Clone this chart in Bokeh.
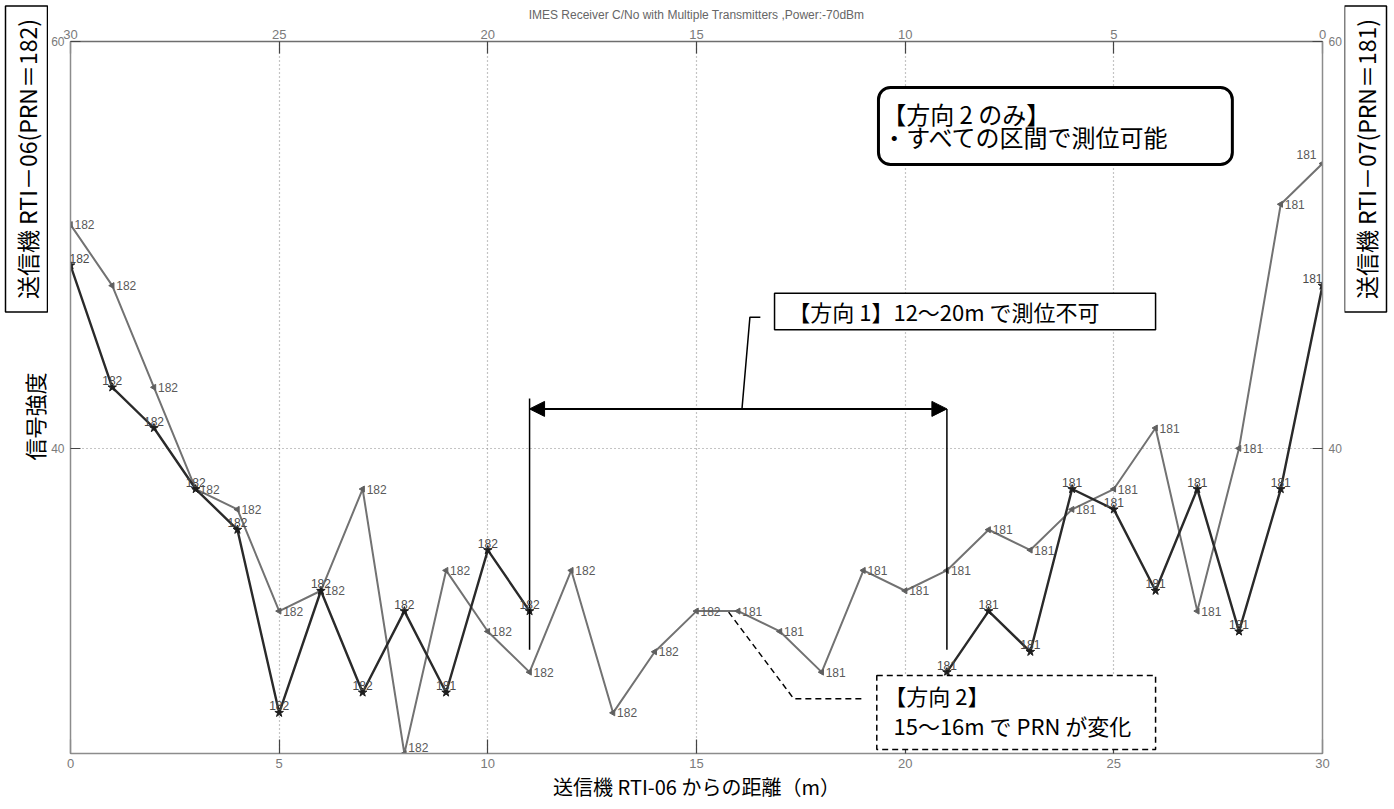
import math
from bokeh.plotting import figure
from bokeh.layouts import row
from bokeh.models import (Range1d, LinearAxis, FixedTicker, ColumnDataSource, LabelSet, Label,
                          BoxAnnotation, Arrow, NormalHead, Grid)
from bokeh.core.properties import value
from bokeh.embed import file_html
from bokeh.resources import INLINE

# ---------------- data ----------------
dist = list(range(31))
dir2_cn0 = [51, 48, 43, 38, 37, 32, 33, 38, 25, 34, 31, 29, 34, 27, 30, 32,
            32, 31, 29, 34, 33, 34, 36, 35, 37, 38, 41, 32, 40, 52, 54]
dir2_prn = ["182"] * 16 + ["181"] * 15

dir1a_dist = list(range(0, 12))
dir1a_cn0 = [49, 43, 41, 38, 36, 27, 33, 28, 32, 28, 35, 32]
dir1a_prn = ["182"] * 9 + ["181"] + ["182"] * 2

dir1b_dist = list(range(21, 31))
dir1b_cn0 = [29, 32, 30, 38, 37, 33, 38, 31, 38, 48]
dir1b_prn = ["181"] * 10

x_ticks = [0, 5, 10, 15, 20, 25, 30]
y_ticks = [40, 60]
grid_x = [5, 10, 15, 20, 25]
grid_y = [40]

title_text = "IMES Receiver C/No with Multiple Transmitters ,Power:-70dBm"
xlabel_text = "送信機 RTI-06 からの距離（m）"
ylabel_text = "信号強度"
left_tx = "送信機 RTI－06(PRN＝182)"
right_tx = "送信機 RTI－07(PRN＝181)"
note1 = "【方向 1】12～20m で測位不可"
note2a = "【方向 2 のみ】"
note2b = "・すべての区間で測位可能"
note3a = "【方向 2】"
note3b = "15～16m で PRN が変化"

JP = "Noto Sans CJK JP"
LAT = "Liberation Sans"
H = 805
X_MIN, X_MAX, Y_MIN, Y_MAX = 0, 30, 25, 60

# ---------------- main figure ----------------
p = figure(width=1296, height=H, x_range=Range1d(X_MIN, X_MAX), y_range=Range1d(Y_MIN, Y_MAX),
           output_backend="svg", toolbar_location=None,
           min_border_left=22, min_border_right=22, min_border_top=41, min_border_bottom=52,
           x_axis_location=None, y_axis_location=None, frame_align=False)
p.grid.visible = False
p.outline_line_color = None
p.background_fill_color = "white"
p.border_fill_color = "white"
p.extra_x_ranges = {"top": Range1d(X_MAX, X_MIN)}

p.title.text = title_text
p.title.align = "center"
p.title.text_font = LAT
p.title.text_font_size = "12px"
p.title.text_font_style = "normal"
p.title.text_color = "#666666"
p.title.standoff = 9

def style_axis(ax, line_color, standoff, size="13px"):
    ax.axis_line_color = line_color
    ax.axis_line_width = 1.5
    ax.major_tick_line_color = "#444444"
    ax.major_tick_line_width = 1.2
    ax.major_tick_out = 0
    ax.minor_tick_line_color = None
    ax.major_label_text_color = "#7a7a7a"
    ax.major_label_text_font = LAT
    ax.major_label_text_font_size = size
    ax.major_label_standoff = standoff

xb = LinearAxis(ticker=FixedTicker(ticks=x_ticks))
style_axis(xb, "#8c8c8c", 5)
xb.major_tick_in = 14
xb.axis_label = xlabel_text
xb.axis_label_text_font = JP
xb.axis_label_text_font_size = "20px"
xb.axis_label_text_font_style = "normal"
xb.axis_label_text_color = "black"
xb.axis_label_standoff = 1
p.add_layout(xb, "below")

xt = LinearAxis(x_range_name="top", ticker=FixedTicker(ticks=x_ticks))
style_axis(xt, "#6e6e6e", 3)
xt.major_tick_in = 12
p.add_layout(xt, "above")

yl = LinearAxis(ticker=FixedTicker(ticks=y_ticks))
style_axis(yl, "#8c8c8c", 6, "12px")
yl.major_tick_in = 10
p.add_layout(yl, "left")

yr = LinearAxis(ticker=FixedTicker(ticks=y_ticks))
style_axis(yr, "#8c8c8c", 6, "12px")
yr.major_tick_in = 10
p.add_layout(yr, "right")

gx = Grid(dimension=0, ticker=FixedTicker(ticks=grid_x), grid_line_color="#8a8a8a",
          grid_line_dash="1 3", grid_line_width=1.2)
gy = Grid(dimension=1, ticker=FixedTicker(ticks=grid_y), grid_line_color="#8a8a8a",
          grid_line_dash="1 3", grid_line_width=1.2)
p.add_layout(gx)
p.add_layout(gy)

# ---------------- series ----------------
p.line(dist, dir2_cn0, line_color="#727272", line_width=2)
p.scatter(dist, dir2_cn0, marker="triangle", angle=math.pi / 2, size=6,
          fill_color="#606060", line_color="#606060")

p.line(dir1a_dist, dir1a_cn0, line_color="#2a2a2a", line_width=2.4)
p.line(dir1b_dist, dir1b_cn0, line_color="#2a2a2a", line_width=2.4)
p.scatter(dir1a_dist, dir1a_cn0, marker="star", size=9, fill_color="#1e1e1e", line_color="#1e1e1e")
p.scatter(dir1b_dist, dir1b_cn0, marker="star", size=9, fill_color="#1e1e1e", line_color="#1e1e1e")

# label offsets: keep labels that sit on the frame edge inside the (clipped) frame
g_dx = [-26 if x == X_MAX else 4 for x in dist]
g_dy = [9 if x == X_MAX else (6 if y == Y_MIN else 0) for x, y in zip(dist, dir2_cn0)]
src2 = ColumnDataSource(dict(x=dist, y=dir2_cn0, t=dir2_prn, dx=g_dx, dy=g_dy))
p.add_layout(LabelSet(x="x", y="y", text="t", source=src2, x_offset="dx", y_offset="dy",
                      level="overlay", text_baseline="middle", text_align="left",
                      text_font_size="12px", text_color="#5a5a5a", text_font=value(LAT)))

d_x = dir1a_dist + dir1b_dist
d_y = dir1a_cn0 + dir1b_cn0
d_dx = [9 if x == X_MIN else (-10 if x == X_MAX else 0) for x in d_x]
src1 = ColumnDataSource(dict(x=d_x, y=d_y, t=dir1a_prn + dir1b_prn, dx=d_dx))
p.add_layout(LabelSet(x="x", y="y", text="t", source=src1, x_offset="dx", y_offset=7,
                      level="overlay", text_baseline="middle", text_align="center",
                      text_font_size="12px", text_color="#4a4a4a", text_font=value(LAT)))

# ---------------- annotations ----------------
p.segment(x0=[11, 21], y0=[42.45, 41.94], x1=[11, 21], y1=[30.1, 30.1],
          line_color="black", line_width=1.5)
p.add_layout(Arrow(x_start=11, y_start=41.94, x_end=21, y_end=41.94, line_color="black",
                   line_width=2,
                   start=NormalHead(size=15, fill_color="black", line_color="black"),
                   end=NormalHead(size=15, fill_color="black", line_color="black")))
p.line([16.09, 16.28, 16.53], [41.94, 46.45, 46.45], line_color="black", line_width=1.5)
p.add_layout(BoxAnnotation(left=16.87, right=26.0, bottom=45.83, top=47.63,
                           fill_color="white", fill_alpha=1, line_color="black",
                           line_alpha=1, line_width=1.5))
p.add_layout(Label(x=17.2, y=46.73, text=note1, text_font=JP, text_font_size="22px",
                   text_baseline="middle", text_align="left", text_color="black"))

p.add_layout(BoxAnnotation(left=19.36, right=27.84, bottom=53.95, top=57.74,
                           fill_color="white", fill_alpha=1, line_color="black", line_alpha=1,
                           line_width=3, border_radius=12))
p.add_layout(Label(x=19.45, y=56.45, text=note2a, text_font=JP, text_font_size="24px",
                   text_baseline="middle", text_align="left", text_color="black"))
p.add_layout(Label(x=19.45, y=55.35, text=note2b, text_font=JP, text_font_size="24px",
                   text_baseline="middle", text_align="left", text_color="black"))

p.line([15.77, 17.33, 19.03], [31.95, 27.69, 27.69], line_color="black", line_width=1.5,
       line_dash="6 4")
p.add_layout(BoxAnnotation(left=19.32, right=26.0, bottom=25.2, top=28.83,
                           fill_color="white", fill_alpha=1, line_color="black", line_alpha=1,
                           line_width=1.5, line_dash="6 4"))
p.add_layout(Label(x=19.5, y=27.9, text=note3a, text_font=JP, text_font_size="22px",
                   text_baseline="middle", text_align="left", text_color="black"))
p.add_layout(Label(x=19.72, y=26.38, text=note3b, text_font=JP, text_font_size="22px",
                   text_baseline="middle", text_align="left", text_color="black"))

# ---------------- side panels ----------------
def side_fig(w):
    f = figure(width=w, height=H, x_range=Range1d(0, w), y_range=Range1d(0, H),
               output_backend="svg", toolbar_location=None, min_border=0,
               title_location=None, x_axis_location=None, y_axis_location=None,
               frame_align=False)
    f.grid.visible = False
    f.outline_line_color = None
    f.background_fill_color = "white"
    f.border_fill_color = "white"
    return f

box_pad = dict(left=13, right=13, top=4, bottom=4)

left = side_fig(48)
left.add_layout(Label(x=26, y=H - 158.5, text=left_tx, text_font=JP, text_font_size="23px",
                      text_align="center", text_baseline="middle", text_color="black",
                      angle=math.pi / 2, border_line_color="black", border_line_width=1.5,
                      background_fill_color="white", padding=box_pad))
left.add_layout(Label(x=33, y=H - 416, text=ylabel_text, text_font=JP, text_font_size="22px",
                      text_align="center", text_baseline="middle", text_color="black",
                      angle=math.pi / 2))

right = side_fig(48)
right.add_layout(Label(x=21, y=H - 158.5, text=right_tx, text_font=JP, text_font_size="23px",
                       text_align="center", text_baseline="middle", text_color="black",
                       angle=math.pi / 2, border_line_color="black", border_line_width=1.5,
                       background_fill_color="white", padding=box_pad))

layout = row(left, p, right)
open("out.html", "w").write(file_html(layout, INLINE))
